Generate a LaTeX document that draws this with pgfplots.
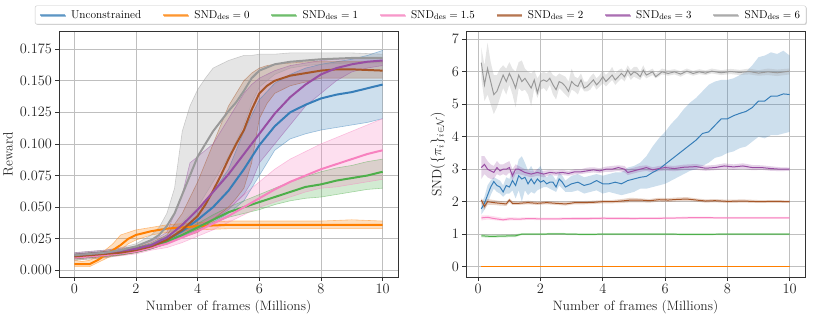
\documentclass[border=0pt]{standalone}
\usepackage{pgfplots}
\pgfplotsset{compat=1.18}
\usepackage{pgfplotstable}
\usepgfplotslibrary{fillbetween}
\usetikzlibrary{shadows}

\definecolor{cblue}{HTML}{377EB8}
\definecolor{corange}{HTML}{FF7F00}
\definecolor{cgreen}{HTML}{4DAF4A}
\definecolor{cpink}{HTML}{F781BF}
\definecolor{cbrown}{HTML}{A65628}
\definecolor{cpurple}{HTML}{984EA3}
\definecolor{cgray}{HTML}{999999}

% ---- left panel: reward (x, mean, lo, hi) ----
\pgfplotstableread{
x m lo hi
0 0.011 0.009 0.013
1 0.013 0.011 0.015
2 0.016 0.014 0.018
2.5 0.019 0.017 0.021
3 0.024 0.021 0.027
3.5 0.031 0.027 0.035
4 0.040 0.032 0.048
4.5 0.050 0.038 0.062
5 0.063 0.045 0.080
5.5 0.080 0.055 0.110
6 0.099 0.075 0.135
6.5 0.114 0.095 0.148
7 0.125 0.104 0.155
7.5 0.131 0.108 0.160
8 0.136 0.111 0.163
8.5 0.139 0.113 0.165
9 0.141 0.115 0.167
9.5 0.144 0.117 0.170
10 0.147 0.120 0.174
}\Lblue
\pgfplotstableread{
x m lo hi
0 0.005 0.003 0.008
0.25 0.005 0.003 0.007
0.5 0.005 0.003 0.008
0.75 0.008 0.006 0.011
1 0.012 0.009 0.016
1.25 0.016 0.012 0.021
1.5 0.020 0.016 0.028
1.75 0.025 0.021 0.030
2 0.028 0.024 0.032
2.5 0.031 0.028 0.034
3 0.033 0.030 0.036
3.5 0.034 0.031 0.037
4 0.035 0.032 0.038
5 0.036 0.033 0.039
6 0.036 0.033 0.039
7 0.036 0.033 0.039
8 0.036 0.033 0.039
9 0.036 0.033 0.040
10 0.036 0.033 0.039
}\Lorange
\pgfplotstableread{
x m lo hi
0 0.010 0.008 0.012
1 0.012 0.010 0.014
2 0.016 0.014 0.018
2.5 0.019 0.017 0.021
3 0.023 0.021 0.025
3.5 0.028 0.026 0.031
4 0.034 0.031 0.037
4.5 0.040 0.037 0.044
5 0.046 0.042 0.050
5.5 0.050 0.045 0.055
6 0.054 0.048 0.060
6.5 0.058 0.052 0.065
7 0.062 0.055 0.070
7.5 0.066 0.057 0.074
8 0.068 0.058 0.078
8.5 0.071 0.060 0.081
9 0.073 0.062 0.083
9.5 0.075 0.064 0.086
10 0.078 0.065 0.088
}\Lgreen
\pgfplotstableread{
x m lo hi
0 0.010 0.008 0.012
1 0.012 0.010 0.014
2 0.015 0.013 0.017
2.5 0.018 0.016 0.020
3 0.021 0.018 0.024
3.5 0.026 0.022 0.029
4 0.031 0.027 0.035
4.5 0.037 0.032 0.042
5 0.043 0.038 0.050
5.5 0.050 0.044 0.060
6 0.057 0.050 0.070
6.5 0.064 0.054 0.080
7 0.070 0.058 0.088
7.5 0.075 0.062 0.094
8 0.080 0.065 0.100
8.5 0.084 0.066 0.105
9 0.088 0.068 0.110
9.5 0.092 0.070 0.115
10 0.095 0.072 0.120
}\Lpink
\pgfplotstableread{
x m lo hi
0 0.011 0.009 0.013
1 0.013 0.011 0.015
1.5 0.014 0.012 0.016
2 0.016 0.014 0.018
2.5 0.019 0.017 0.022
3 0.024 0.021 0.028
3.5 0.032 0.026 0.045
4 0.043 0.030 0.070
4.25 0.052 0.035 0.085
4.5 0.063 0.040 0.100
4.75 0.075 0.045 0.115
5 0.088 0.050 0.130
5.25 0.100 0.057 0.140
5.5 0.111 0.065 0.150
5.75 0.127 0.085 0.156
6 0.140 0.120 0.160
6.25 0.146 0.132 0.162
6.5 0.150 0.140 0.163
7 0.154 0.146 0.164
7.5 0.156 0.149 0.165
8 0.158 0.152 0.165
8.5 0.159 0.152 0.165
9 0.159 0.152 0.165
10 0.158 0.152 0.165
}\Lbrown
\pgfplotstableread{
x m lo hi
0 0.012 0.010 0.014
1 0.014 0.012 0.016
2 0.017 0.015 0.019
2.5 0.020 0.018 0.023
3 0.026 0.022 0.030
3.5 0.036 0.028 0.060
3.75 0.042 0.032 0.085
4 0.048 0.035 0.090
4.5 0.062 0.040 0.100
5 0.076 0.048 0.120
5.5 0.092 0.060 0.140
5.75 0.100 0.070 0.147
6 0.108 0.085 0.152
6.5 0.124 0.100 0.158
7 0.137 0.115 0.162
7.5 0.147 0.130 0.164
8 0.155 0.140 0.166
8.5 0.160 0.150 0.167
9 0.163 0.157 0.168
9.5 0.165 0.160 0.168
10 0.166 0.162 0.168
}\Lpurple
\pgfplotstableread{
x m lo hi
0 0.012 0.010 0.014
0.5 0.013 0.011 0.015
1 0.014 0.012 0.016
1.5 0.016 0.014 0.018
2 0.019 0.016 0.021
2.5 0.024 0.020 0.028
2.75 0.028 0.023 0.034
3 0.035 0.028 0.045
3.25 0.045 0.033 0.065
3.5 0.060 0.038 0.110
3.75 0.075 0.044 0.130
4 0.090 0.050 0.143
4.25 0.100 0.060 0.152
4.5 0.110 0.070 0.160
4.75 0.118 0.080 0.163
5 0.126 0.090 0.166
5.25 0.133 0.102 0.168
5.5 0.142 0.115 0.170
5.75 0.152 0.132 0.170
6 0.158 0.145 0.171
6.5 0.163 0.155 0.171
7 0.165 0.160 0.172
7.5 0.166 0.162 0.172
8 0.167 0.163 0.172
9 0.168 0.164 0.172
10 0.168 0.164 0.171
}\Lgray

% ---- right panel: SND (x, mean, lo, hi) ----
\pgfplotstableread{
x m lo hi
0.1 1.78 1.60 1.95
0.2 1.95 1.75 2.15
0.3 2.20 1.95 2.50
0.4 2.45 2.20 2.65
0.5 2.62 2.40 2.75
0.6 2.50 2.30 2.70
0.7 2.45 2.25 2.65
0.8 2.30 2.15 2.50
0.9 2.50 2.25 2.75
1.0 2.45 2.25 2.70
1.1 2.65 2.35 2.95
1.2 2.50 2.10 2.90
1.3 2.80 2.35 3.30
1.4 2.70 2.00 3.40
1.5 2.75 2.35 3.20
1.6 2.55 2.20 2.95
1.7 2.70 2.30 3.10
1.8 2.55 2.25 2.90
1.9 2.70 2.35 3.00
2.0 2.60 2.40 3.10
2.1 2.65 2.45 2.85
2.2 2.55 2.45 2.75
2.3 2.60 2.40 2.85
2.4 2.60 2.35 2.80
2.5 2.45 2.30 2.65
2.6 2.70 2.50 2.90
2.7 2.60 2.40 2.80
2.8 2.45 2.30 2.65
3.0 2.55 2.30 2.80
3.2 2.60 2.35 2.85
3.4 2.50 2.25 2.75
3.6 2.55 2.30 2.80
3.8 2.65 2.35 2.85
4.0 2.55 2.25 2.80
4.2 2.55 2.30 2.85
4.4 2.60 2.25 2.90
4.6 2.55 2.20 2.90
4.8 2.65 2.25 3.05
5.0 2.70 2.30 3.10
5.2 2.75 2.40 3.20
5.4 2.78 2.40 3.40
5.6 2.90 2.45 3.70
5.8 3.00 2.50 3.95
6.0 3.15 2.55 4.15
6.2 3.30 2.65 4.40
6.4 3.45 2.75 4.60
6.6 3.60 2.85 4.85
6.8 3.75 2.95 5.05
7.0 3.90 3.00 5.20
7.2 4.10 3.10 5.40
7.4 4.15 3.20 5.60
7.6 4.35 3.35 5.70
7.8 4.55 3.40 5.75
8.0 4.55 3.50 5.75
8.2 4.65 3.55 5.80
8.4 4.72 3.65 5.90
8.6 4.78 3.70 6.00
8.8 4.90 3.85 6.20
9.0 5.10 4.00 6.45
9.2 5.10 3.95 6.50
9.4 5.25 4.05 6.60
9.6 5.25 4.05 6.55
9.8 5.32 4.10 6.65
10.0 5.30 4.15 6.50
}\Rblue
\pgfplotstableread{
x m lo hi
0.1 0 0 0
10.0 0 0 0
}\Rorange
\pgfplotstableread{
x m lo hi
0.1 0.95 0.90 1.00
0.4 0.93 0.89 0.98
0.8 0.94 0.90 0.99
1.2 0.95 0.91 1.00
1.4 1.00 0.97 1.03
2.0 1.00 0.97 1.03
2.5 1.01 0.98 1.04
3.0 1.00 0.97 1.03
3.5 0.99 0.96 1.02
4.0 1.00 0.97 1.03
5.0 1.00 0.97 1.03
6.0 1.00 0.97 1.03
7.0 0.99 0.96 1.02
8.0 1.00 0.97 1.03
9.0 1.00 0.97 1.03
10.0 1.00 0.97 1.03
}\Rgreen
\pgfplotstableread{
x m lo hi
0.1 1.50 1.42 1.58
0.3 1.52 1.45 1.58
0.5 1.48 1.43 1.55
0.8 1.44 1.40 1.50
1.0 1.47 1.42 1.52
1.3 1.46 1.42 1.51
1.6 1.48 1.44 1.52
2.0 1.47 1.43 1.51
2.5 1.47 1.43 1.51
3.0 1.48 1.44 1.52
3.5 1.48 1.44 1.52
4.0 1.49 1.45 1.53
5.0 1.48 1.45 1.52
6.0 1.49 1.46 1.53
7.0 1.51 1.47 1.54
8.0 1.50 1.47 1.53
9.0 1.50 1.47 1.53
10.0 1.50 1.47 1.53
}\Rpink
\pgfplotstableread{
x m lo hi
0.1 2.05 1.95 2.10
0.2 1.85 1.75 2.00
0.3 2.00 1.90 2.08
0.5 1.97 1.90 2.05
0.7 1.95 1.88 2.02
0.9 1.93 1.87 2.00
1.0 2.05 1.98 2.10
1.1 1.95 1.90 2.02
1.3 1.95 1.90 2.00
1.6 1.97 1.92 2.03
1.9 1.95 1.90 2.00
2.2 1.97 1.92 2.02
2.5 1.95 1.90 2.00
2.8 1.93 1.88 1.99
3.1 1.97 1.92 2.02
3.4 1.97 1.92 2.02
3.7 1.98 1.93 2.03
4.0 2.00 1.95 2.05
4.3 2.00 1.95 2.05
4.6 2.02 1.96 2.08
4.9 2.05 1.98 2.12
5.2 2.05 1.98 2.10
5.5 2.03 1.97 2.08
5.8 2.06 2.00 2.12
6.1 2.05 1.99 2.11
6.4 2.07 2.01 2.13
6.7 2.08 2.02 2.14
7.0 2.05 2.00 2.10
7.3 2.02 1.97 2.07
7.6 2.03 1.98 2.08
8.0 2.01 1.96 2.06
8.5 2.02 1.97 2.07
9.0 2.00 1.96 2.05
9.5 2.01 1.96 2.05
10.0 2.00 1.96 2.04
}\Rbrown
\pgfplotstableread{
x m lo hi
0.1 3.05 2.70 3.40
0.2 3.15 2.85 3.40
0.3 3.00 2.75 3.25
0.4 2.95 2.70 3.15
0.5 2.90 2.70 3.10
0.6 3.05 2.85 3.25
0.7 2.95 2.80 3.15
0.8 3.00 2.85 3.15
0.9 3.00 2.80 3.20
1.0 3.05 2.90 3.25
1.1 2.80 2.65 3.00
1.2 3.00 2.85 3.15
1.3 3.00 2.85 3.10
1.5 2.90 2.80 3.00
1.7 2.85 2.75 2.95
1.9 2.90 2.80 3.00
2.1 2.85 2.75 2.95
2.3 2.90 2.82 2.98
2.5 2.88 2.80 2.96
2.7 2.90 2.82 2.98
2.9 2.87 2.80 2.95
3.1 2.92 2.84 3.00
3.3 2.92 2.85 3.00
3.5 2.95 2.88 3.05
3.7 2.98 2.90 3.06
3.9 2.95 2.88 3.03
4.1 3.00 2.92 3.08
4.3 3.00 2.92 3.10
4.5 3.05 2.95 3.12
4.7 3.00 2.90 3.10
4.8 2.90 2.82 3.00
5.0 2.95 2.87 3.05
5.2 3.00 2.92 3.10
5.4 3.05 2.95 3.12
5.6 2.98 2.90 3.06
5.8 3.02 2.94 3.10
6.0 3.05 2.96 3.12
6.3 3.02 2.94 3.10
6.6 3.06 2.97 3.14
7.0 3.08 2.98 3.16
7.3 3.03 2.95 3.11
7.6 3.05 2.97 3.13
7.9 3.10 3.00 3.18
8.2 3.07 2.98 3.15
8.5 3.10 3.01 3.18
8.8 3.05 2.97 3.13
9.1 3.05 2.98 3.12
9.4 3.02 2.95 3.09
9.7 3.00 2.94 3.06
10.0 3.00 2.95 3.05
}\Rpurple
\pgfplotstableread{
x m lo hi
0.1 6.28 5.80 6.75
0.2 5.60 5.10 6.20
0.3 6.10 5.30 6.90
0.4 5.70 5.00 6.30
0.5 5.30 4.70 5.90
0.6 5.40 4.90 5.90
0.7 5.65 5.20 6.10
0.8 5.90 5.50 6.20
0.9 5.70 5.30 6.10
1.0 5.95 5.60 6.30
1.1 5.75 5.30 6.10
1.2 5.50 4.90 6.00
1.3 5.90 5.50 6.30
1.4 5.70 5.40 6.35
1.5 5.80 5.45 6.10
1.6 5.65 5.30 6.00
1.7 5.50 4.95 5.95
1.8 5.75 5.50 6.05
1.9 5.35 5.20 5.80
2.0 5.70 5.45 5.95
2.1 5.75 5.50 6.00
2.2 5.70 5.40 5.95
2.3 5.80 5.60 6.05
2.4 5.60 5.30 5.90
2.5 5.45 5.15 5.85
2.6 5.70 5.50 5.95
2.7 5.65 5.40 5.90
2.8 5.55 5.30 5.85
2.9 5.40 5.20 5.70
3.0 5.70 5.45 6.10
3.1 5.60 5.40 5.85
3.2 5.55 5.30 5.80
3.3 5.75 5.55 5.95
3.4 5.50 5.40 5.70
3.5 5.55 5.40 5.70
3.6 5.65 5.45 5.85
3.7 5.75 5.60 5.95
3.8 5.60 5.45 5.80
3.9 5.70 5.55 5.90
4.0 5.85 5.65 6.05
4.1 5.70 5.55 5.90
4.2 5.80 5.65 6.00
4.3 5.90 5.75 6.15
4.4 5.75 5.60 5.95
4.5 5.85 5.70 6.05
4.6 5.95 5.80 6.10
4.7 5.85 5.70 6.00
4.8 6.05 5.90 6.20
4.9 5.90 5.75 6.05
5.0 6.00 5.85 6.15
5.1 5.95 5.80 6.15
5.2 5.85 5.75 6.00
5.3 6.05 5.90 6.20
5.4 5.90 5.80 6.00
5.6 6.00 5.90 6.10
5.7 5.85 5.80 5.95
5.9 6.00 5.92 6.10
6.1 5.95 5.88 6.05
6.3 6.00 5.92 6.08
6.5 5.93 5.85 6.02
6.7 6.02 5.95 6.10
6.9 5.95 5.88 6.03
7.1 6.00 5.93 6.08
7.3 5.96 5.90 6.04
7.5 6.02 5.95 6.10
7.8 5.97 5.90 6.05
8.1 6.01 5.93 6.09
8.4 5.98 5.90 6.06
8.7 6.01 5.92 6.10
9.0 5.96 5.88 6.05
9.3 6.00 5.90 6.10
9.6 5.97 5.87 6.07
10.0 6.02 5.92 6.10
}\Rgray

% band: #1 table, #2 colour, #3 unique name, #4 edge style
\newcommand{\band}[4]{%
  \addplot[#4, name path=#3u, forget plot] table[x=x,y=hi]{#1};
  \addplot[#4, name path=#3l, forget plot] table[x=x,y=lo]{#1};
  \addplot[fill=#2, fill opacity=0.25, draw=none, forget plot] fill between[of=#3u and #3l];
}

\pgfplotsset{
  mpl/.style={
    scale only axis, width=340pt, height=247pt,
    axis line style={black!80, line width=0.8pt},
    grid=major, grid style={black!25, line width=0.8pt},
    tick pos=left, tick align=outside, major tick length=3.5pt,
    tick style={black!80, line width=0.8pt},
    tick label style={font=\fontsize{13.6}{16}\selectfont, text=black!85},
    label style={font=\fontsize{13.6}{16}\selectfont, text=black!85},
    xtick={0,2,4,6,8,10},
    xlabel={Number of frames (Millions)},
  },
}

\begin{document}
\begin{tikzpicture}

\begin{axis}[mpl, at={(57pt,42pt)}, anchor=south west,
    xmin=-0.5, xmax=10.5, ymin=-0.0055, ymax=0.1894,
    ytick={0,0.025,0.05,0.075,0.1,0.125,0.15,0.175},
    yticklabel style={/pgf/number format/.cd, fixed, fixed zerofill, precision=3},
    scaled y ticks=false,
    ylabel={Reward},
    legend columns=7,
    legend cell align=left,
    legend image code/.code={\draw[#1] (0pt,0pt) -- (25pt,0pt);},
    legend style={at={(1.0662,1.0648)}, anchor=center,
      draw=black!22, rounded corners=2pt, fill=white,
      drop shadow={shadow xshift=0.8pt, shadow yshift=-0.8pt, fill=black!35},
      font=\fontsize{11.4}{13}\selectfont,
      inner xsep=4pt, inner ysep=2.5pt,
      /tikz/every odd column/.append style={column sep=3.5pt},
      /tikz/every even column/.append style={column sep=19pt}},
]
\addlegendimage{cblue, line width=1.6pt, opacity=0.6}\addlegendentry{Unconstrained}
\addlegendimage{corange, line width=1.6pt, opacity=0.6}\addlegendentry{SND$_{\mathrm{des}}=0$}
\addlegendimage{cgreen, line width=1.6pt, opacity=0.6}\addlegendentry{SND$_{\mathrm{des}}=1$}
\addlegendimage{cpink, line width=1.6pt, opacity=0.6}\addlegendentry{SND$_{\mathrm{des}}=1.5$}
\addlegendimage{cbrown, line width=1.6pt, opacity=0.6}\addlegendentry{SND$_{\mathrm{des}}=2$}
\addlegendimage{cpurple, line width=1.6pt, opacity=0.6}\addlegendentry{SND$_{\mathrm{des}}=3$}
\addlegendimage{cgray, line width=1.6pt, opacity=0.6}\addlegendentry{SND$_{\mathrm{des}}=6$}

\band{\Lblue}{cblue}{lb}{cblue, draw opacity=0.45, line width=0.6pt}
\band{\Lorange}{corange}{lo}{corange, draw opacity=0.45, line width=0.6pt}
\band{\Lgreen}{cgreen}{lg}{cgreen, draw opacity=0.45, line width=0.6pt}
\band{\Lpink}{cpink}{lp}{cpink, draw opacity=0.45, line width=0.6pt}
\band{\Lbrown}{cbrown}{lr}{cbrown, draw opacity=0.45, line width=0.6pt}
\band{\Lpurple}{cpurple}{lu}{cpurple, draw opacity=0.45, line width=0.6pt}
\band{\Lgray}{cgray}{ly}{cgray, draw opacity=0.45, line width=0.6pt}

\addplot[cblue, line width=2pt, forget plot] table[x=x,y=m]{\Lblue};
\addplot[corange, line width=2pt, forget plot] table[x=x,y=m]{\Lorange};
\addplot[cgreen, line width=2pt, forget plot] table[x=x,y=m]{\Lgreen};
\addplot[cpink, line width=2pt, forget plot] table[x=x,y=m]{\Lpink};
\addplot[cbrown, line width=2pt, forget plot] table[x=x,y=m]{\Lbrown};
\addplot[cpurple, line width=2pt, forget plot] table[x=x,y=m]{\Lpurple};
\addplot[cgray, line width=2pt, forget plot] table[x=x,y=m]{\Lgray};
\end{axis}

\begin{axis}[mpl, at={(465pt,42pt)}, anchor=south west,
    xmin=-0.395, xmax=10.495, ymin=-0.33, ymax=7.26,
    ytick={0,1,2,3,4,5,6,7},
    ylabel={SND$(\{\pi_i\}_{i\in\mathcal{N}})$},
]
\band{\Rblue}{cblue}{rb}{draw=none}
\band{\Rgreen}{cgreen}{rg}{draw=none}
\band{\Rpink}{cpink}{rp}{draw=none}
\band{\Rbrown}{cbrown}{rr}{draw=none}
\band{\Rpurple}{cpurple}{ru}{draw=none}
\band{\Rgray}{cgray}{ry}{draw=none}

\addplot[cblue, line width=1pt] table[x=x,y=m]{\Rblue};
\addplot[corange, line width=1pt] table[x=x,y=m]{\Rorange};
\addplot[cgreen, line width=1pt] table[x=x,y=m]{\Rgreen};
\addplot[cpink, line width=1pt] table[x=x,y=m]{\Rpink};
\addplot[cbrown, line width=1pt] table[x=x,y=m]{\Rbrown};
\addplot[cpurple, line width=1pt] table[x=x,y=m]{\Rpurple};
\addplot[cgray, line width=1pt] table[x=x,y=m]{\Rgray};
\end{axis}
\path (0,0) rectangle (831pt,320pt);
\end{tikzpicture}
\end{document}
